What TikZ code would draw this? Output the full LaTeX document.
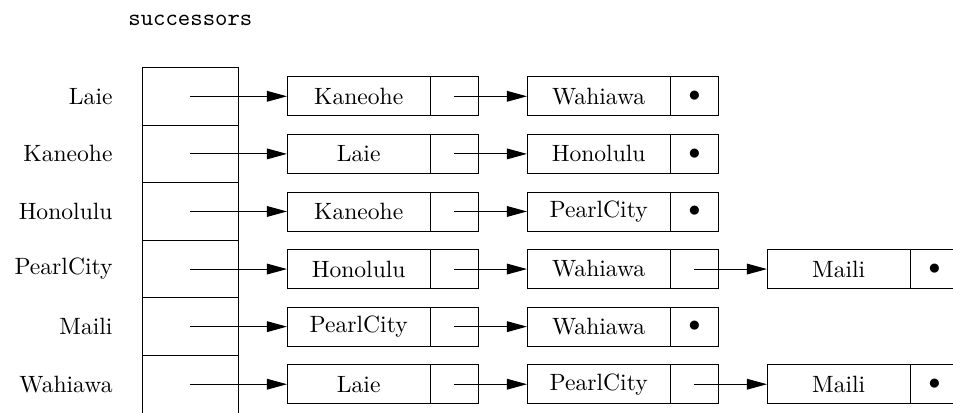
\documentclass[tikz,border=0pt]{standalone}
\usepackage{tikz}
\usetikzlibrary{positioning}
\usetikzlibrary{arrows.meta}
\tikzset{
	cell/.style = {draw, minimum width=1.43cm, minimum height=0.858cm, inner sep=0pt, outer sep=0pt},
	city/.style = {draw, minimum width=2.138cm, minimum height=0.581cm, inner sep=0pt, outer sep=0pt},
	ptr/.style = {draw, minimum width=0.715cm, minimum height=0.581cm, inner sep=0pt, outer sep=0pt},
	vertex/.style = {inner sep=0pt, anchor=east},
	link/.style = {-{Triangle[length=0.3cm, width=0.16cm]}}
}

\begin{document}
\begin{tikzpicture}
		\useasboundingbox (0,0) rectangle (14.2,-6.139);
		\node[inner sep=0pt, anchor=base west, font=\ttfamily] (title) at (1.907,-0.387) {successors};
		% array
		\node[cell] (c1) at (2.831,-1.435) {};
		\node[cell, below=0pt of c1] (c2) {};
		\node[cell, below=0pt of c2] (c3) {};
		\node[cell, below=0pt of c3] (c4) {};
		\node[cell, below=0pt of c4] (c5) {};
		\node[cell, below=0pt of c5] (c6) {};
		% vertices
		\node[vertex, left=0.432cm of c1] (v1) {Laie};
		\node[vertex, left=0.432cm of c2] (v2) {Kaneohe};
		\node[vertex, left=0.432cm of c3] (v3) {Honolulu};
		\node[vertex, left=0.432cm of c4] (v4) {PearlCity};
		\node[vertex, left=0.432cm of c5] (v5) {Maili};
		\node[vertex, left=0.432cm of c6] (v6) {Wahiawa};
		% row 1
		\node[city, right=0.73cm of c1] (n11) {Kaneohe};
		\node[ptr, right=0pt of n11] (p11) {};
		\node[city, right=0.723cm of p11] (n12) {Wahiawa};
		\node[ptr, right=0pt of n12] (p12) {$\bullet$};
		\draw[link] (c1.center) -- (n11.west);
		\draw[link] (p11.center) -- (n12.west);
		% row 2
		\node[city, right=0.73cm of c2] (n21) {Laie};
		\node[ptr, right=0pt of n21] (p21) {};
		\node[city, right=0.723cm of p21] (n22) {Honolulu};
		\node[ptr, right=0pt of n22] (p22) {$\bullet$};
		\draw[link] (c2.center) -- (n21.west);
		\draw[link] (p21.center) -- (n22.west);
		% row 3
		\node[city, right=0.73cm of c3] (n31) {Kaneohe};
		\node[ptr, right=0pt of n31] (p31) {};
		\node[city, right=0.723cm of p31] (n32) {PearlCity};
		\node[ptr, right=0pt of n32] (p32) {$\bullet$};
		\draw[link] (c3.center) -- (n31.west);
		\draw[link] (p31.center) -- (n32.west);
		% row 4
		\node[city, right=0.73cm of c4] (n41) {Honolulu};
		\node[ptr, right=0pt of n41] (p41) {};
		\node[city, right=0.723cm of p41] (n42) {Wahiawa};
		\node[ptr, right=0pt of n42] (p42) {};
		\node[city, right=0.723cm of p42] (n43) {Maili};
		\node[ptr, right=0pt of n43] (p43) {$\bullet$};
		\draw[link] (c4.center) -- (n41.west);
		\draw[link] (p41.center) -- (n42.west);
		\draw[link] (p42.center) -- (n43.west);
		% row 5
		\node[city, right=0.73cm of c5] (n51) {PearlCity};
		\node[ptr, right=0pt of n51] (p51) {};
		\node[city, right=0.723cm of p51] (n52) {Wahiawa};
		\node[ptr, right=0pt of n52] (p52) {$\bullet$};
		\draw[link] (c5.center) -- (n51.west);
		\draw[link] (p51.center) -- (n52.west);
		% row 6
		\node[city, right=0.73cm of c6] (n61) {Laie};
		\node[ptr, right=0pt of n61] (p61) {};
		\node[city, right=0.723cm of p61] (n62) {PearlCity};
		\node[ptr, right=0pt of n62] (p62) {};
		\node[city, right=0.723cm of p62] (n63) {Maili};
		\node[ptr, right=0pt of n63] (p63) {$\bullet$};
		\draw[link] (c6.center) -- (n61.west);
		\draw[link] (p61.center) -- (n62.west);
		\draw[link] (p62.center) -- (n63.west);
\end{tikzpicture}
\end{document}
